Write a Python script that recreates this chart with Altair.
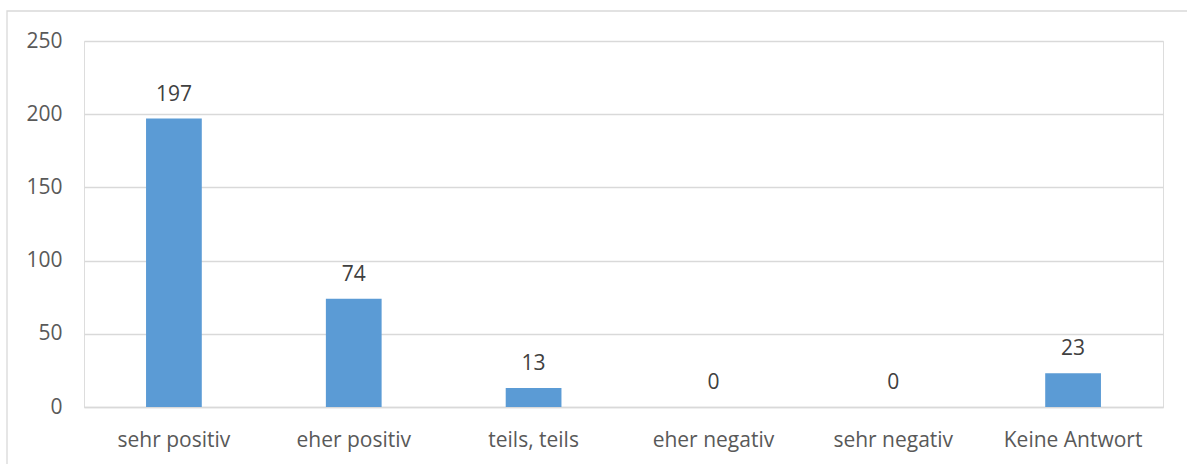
import altair as alt
import pandas as pd

categories = ["sehr positiv", "eher positiv", "teils, teils", "eher negativ", "sehr negativ", "Keine Antwort"]
values = [197, 74, 13, 0, 0, 23]

df = pd.DataFrame({"cat": categories, "val": values})

FONT = "Open Sans"
FS = 21

x = alt.X("cat:N", sort=categories, title=None,
          scale=alt.Scale(paddingInner=0.69, paddingOuter=0.345),
          axis=alt.Axis(labelAngle=0, labelFont=FONT, labelFontSize=FS, labelColor="#595959",
                        labelPadding=22, ticks=False, domainColor="#D9D9D9", domainWidth=1.3,
                        grid=False))
y = alt.Y("val:Q", title=None,
          scale=alt.Scale(domain=[0, 250], nice=False),
          axis=alt.Axis(values=[0, 50, 100, 150, 200, 250], labelFont=FONT, labelFontSize=FS,
                        labelColor="#595959", labelPadding=22, ticks=False, domain=False,
                        gridColor="#D9D9D9", gridWidth=1.3))

base = alt.Chart(df)

border = base.mark_rect(fill=None, stroke="#D9D9D9", strokeWidth=1.3).encode(
    x=alt.value(-77), x2=alt.value(1300), y=alt.value(-30), y2=alt.value(600)
).transform_filter(alt.datum.cat == "sehr positiv")

bars = base.mark_bar(color="#5B9BD5").encode(x=x, y=y)

labels = base.mark_text(baseline="alphabetic", dy=-18, font=FONT, fontSize=FS, color="#404040").encode(
    x=alt.X("cat:N", sort=categories), y="val:Q", text="val:Q")

chart = alt.layer(border, bars, labels).properties(
    width=1079, height=366,
    padding={"left": 84, "top": 41, "right": 24, "bottom": 57},
    autosize=alt.AutoSizeParams(type="none"),
).configure_view(stroke=None).configure(background="white")

chart.save("out.html", embed_options={"renderer": "svg", "actions": False})
